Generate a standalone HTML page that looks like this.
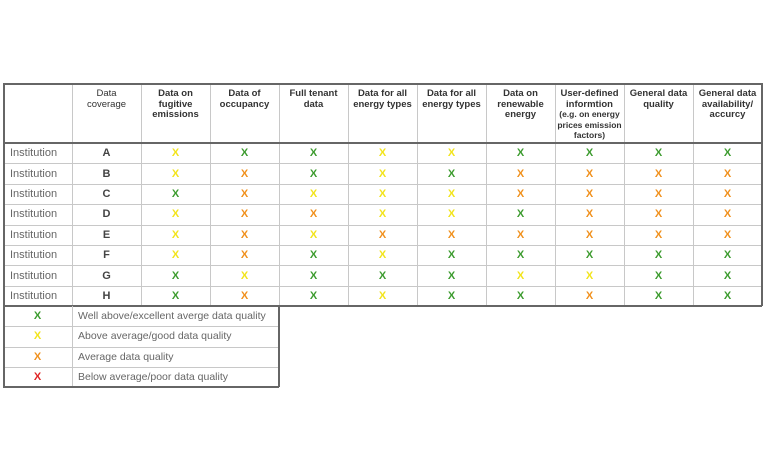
<!DOCTYPE html>
<html><head><meta charset="utf-8"><style>
body{margin:0;width:768px;height:471px;background:#fff;position:relative;overflow:hidden;font-family:"Liberation Sans",Arial,sans-serif}
.c{position:absolute;box-sizing:border-box;display:flex;align-items:center;justify-content:center;text-align:center}
.h{font-size:9.5px;font-weight:bold;color:#333;line-height:10.5px;align-items:flex-start;padding-top:6px}
.h.n{font-weight:normal}
.x{font-size:11px;font-weight:bold}
.G{color:#3c9b2e}.Y{color:#f2e41c}.O{color:#f0901c}.R{color:#e02424}
.inst{font-size:11px;color:#666;justify-content:flex-start;padding-left:7px}
.lt{font-size:10.5px;color:#666;justify-content:flex-start;padding-left:6px}
.l{position:absolute;background:#c8c8c8}
.d{position:absolute;background:#666}
</style></head><body>
<div id="t"></div>
<script>
var X=[3,72,141,210,279,348,417,486,555,624,693,762];
var Rt=[83,143];for(var i=1;i<=8;i++)Rt.push(143+i*20.4);
var heads=["Data<br>coverage","Data on<br>fugitive<br>emissions","Data of<br>occupancy","Full tenant<br>data","Data for all<br>energy types","Data for all<br>energy types","Data on<br>renewable<br>energy","User-defined<br>informtion<br><span style='font-size:8.5px;line-height:9.5px'>(e.g. on energy<br>prices emission<br>factors)</span>","General data<br>quality","General data<br>availability/<br>accurcy"];
var rows=["YGGYYGGGG","YOGYGOOOO","GOYYYOOOO","YOOYYGOOO","YOYOOOOOO","YOGYGGGGG","GYGGGYYGG","GOGYGGOGG"];
var L="ABCDEFGH",h="";
function cell(x1,y1,x2,y2,cls,txt){h+='<div class="c '+cls+'" style="left:'+x1+'px;top:'+y1+'px;width:'+(x2-x1)+'px;height:'+(y2-y1)+'px"><div>'+txt+'</div></div>';}
for(var j=0;j<10;j++)cell(X[j+1],83,X[j+2],143,"h"+(j==0?" n":""),heads[j]);
for(var r=0;r<8;r++){var y1=Rt[r+1],y2=Rt[r+2];
cell(X[0],y1,X[1],y2,"inst","Institution");
cell(X[1],y1,X[2],y2,"x","<span style='color:#444'>"+L[r]+"</span>");
for(var j=0;j<9;j++)cell(X[j+2],y1,X[j+3],y2,"x "+rows[r][j],"X");}
for(var i=1;i<X.length-1;i++)h+='<div class="l" style="left:'+X[i]+'px;top:83px;width:1px;height:223px"></div>';
for(var i=2;i<9;i++)h+='<div class="l" style="left:3px;top:'+Math.round(Rt[i])+'px;width:759px;height:1px"></div>';
h+='<div class="d" style="left:3px;top:142px;width:759px;height:1.5px"></div>';
h+='<div class="d" style="left:3px;top:83px;width:759px;height:1.5px"></div>';
h+='<div class="d" style="left:3px;top:305px;width:759px;height:1.5px"></div>';
h+='<div class="d" style="left:3px;top:83px;width:1.5px;height:223px"></div>';
h+='<div class="d" style="left:761px;top:83px;width:1.5px;height:223px"></div>';
var lg=[["G","Well above/excellent averge data quality"],["Y","Above average/good data quality"],["O","Average data quality"],["R","Below average/poor data quality"]];
for(var k=0;k<4;k++){var y1=306+k*20.3,y2=y1+20.3;
cell(3,y1,72,y2,"x "+lg[k][0],"X");cell(72,y1,279,y2,"lt",lg[k][1]);
if(k<3)h+='<div class="l" style="left:3px;top:'+Math.round(y2)+'px;width:276px;height:1px"></div>';}
h+='<div class="l" style="left:72px;top:306px;width:1px;height:81px"></div>';
h+='<div class="d" style="left:3px;top:306px;width:1.5px;height:81px"></div>';
h+='<div class="d" style="left:278px;top:306px;width:1.5px;height:81px"></div>';
h+='<div class="d" style="left:3px;top:386px;width:276px;height:1.5px"></div>';
document.getElementById("t").innerHTML=h;
</script>
</body></html>
